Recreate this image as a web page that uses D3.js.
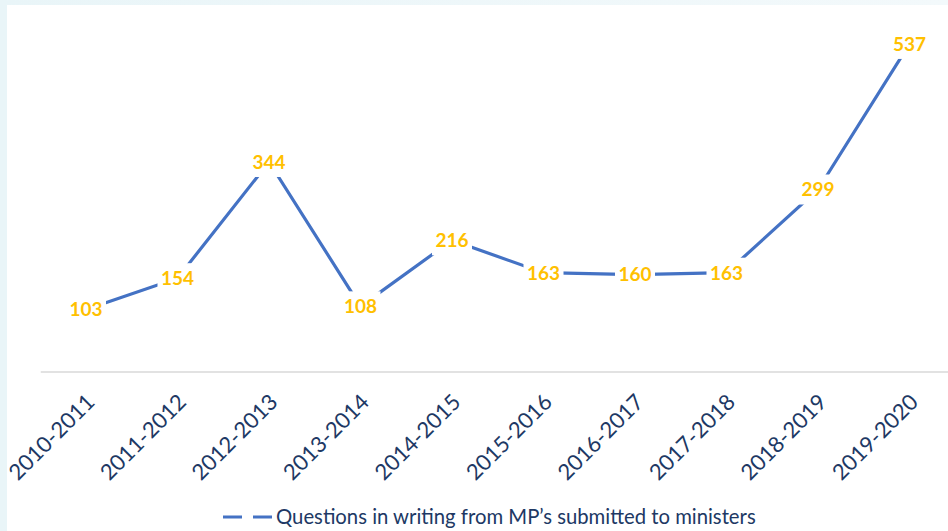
<!DOCTYPE html>
<html>
<head>
<meta charset="utf-8">
<script src="https://cdn.jsdelivr.net/npm/d3@7"></script>
<style>
  html, body { margin: 0; padding: 0; background: #fff; }
  svg { display: block; }
</style>
</head>
<body>
<svg id="chart" width="948" height="531"></svg>
<script>
const categories = ["2010-2011","2011-2012","2012-2013","2013-2014","2014-2015","2015-2016","2016-2017","2017-2018","2018-2019","2019-2020"];
const values = [103, 154, 344, 108, 216, 163, 160, 163, 299, 537];
const seriesName = "Questions in writing from MP\u2019s submitted to ministers";

const W = 948, H = 531;
const svg = d3.select("#chart");

// background frame
const bg = svg.append("defs").append("linearGradient").attr("id","topg").attr("x1",0).attr("x2",1);
bg.append("stop").attr("offset","0%").attr("stop-color","#e9f5f8");
bg.append("stop").attr("offset","100%").attr("stop-color","#f3f9fb");
svg.append("rect").attr("x",0).attr("y",0).attr("width",W).attr("height",H).attr("fill","url(#topg)");
svg.append("rect").attr("x",7).attr("y",5).attr("width",W-7).attr("height",H-5).attr("fill","#ffffff");

const x = d3.scaleBand().domain(categories).range([40.25, 955.25]).padding(0);
const y = d3.scaleLinear().domain([0, 600]).range([372.4, 5.4]);
const cx = d => x(d) + x.bandwidth() / 2;

// axis
const axis = d3.axisBottom(x).tickSize(0).tickSizeOuter(0);
const gx = svg.append("g").attr("transform", `translate(0,${371.5})`).call(axis);
gx.select(".domain").attr("stroke", "#d9d9d9").attr("stroke-width", 1.5);
gx.selectAll(".tick text")
  .attr("font-family", "Lato, 'Open Sans', sans-serif")
  .attr("font-size", 22)
  .attr("fill", "#203864")
  .attr("text-anchor", "end")
  .attr("dy", 0)
  .attr("y", 0)
  .attr("transform", "translate(10,32) rotate(-45)");

// line
const data = categories.map((c, i) => ({c, v: values[i]}));
const line = d3.line().x(d => cx(d.c)).y(d => y(d.v));
svg.append("path").datum(data)
  .attr("fill", "none")
  .attr("stroke", "#4472c4")
  .attr("stroke-width", 3.2)
  .attr("d", line);

// labels with white boxes
const lg = svg.append("g");
const lab = lg.selectAll("g").data(data).join("g")
  .attr("transform", d => `translate(${cx(d.c)},${y(d.v)})`);
lab.append("rect")
  .attr("x", -20).attr("y", -15).attr("width", 40).attr("height", 30)
  .attr("fill", "#ffffff");
lab.append("text")
  .attr("text-anchor", "middle")
  .attr("dy", "0.36em")
  .attr("font-family", "Lato, 'Open Sans', sans-serif")
  .attr("font-weight", "bold")
  .attr("font-size", 19)
  .attr("fill", "#ffc000")
  .text(d => d.v);

// legend
const leg = svg.append("g");
leg.append("line").attr("x1", 223).attr("x2", 272).attr("y1", 517).attr("y2", 517)
  .attr("stroke", "#4472c4").attr("stroke-width", 3.2).attr("stroke-dasharray", "19 11");
leg.append("text").attr("x", 276).attr("y", 524)
  .attr("font-family", "Lato, 'Open Sans', sans-serif")
  .attr("font-size", 20.3)
  .attr("fill", "#203864")
  .text(seriesName);
</script>
</body>
</html>
